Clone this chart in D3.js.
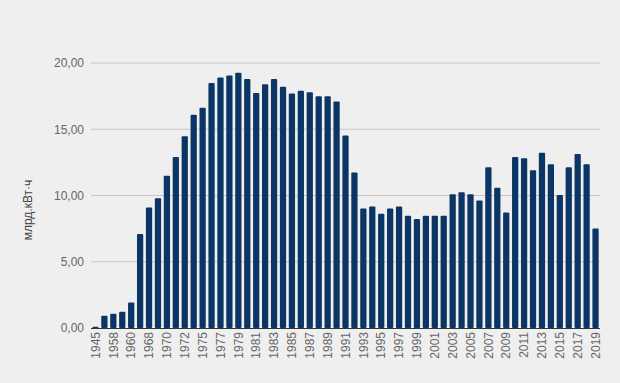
<!DOCTYPE html>
<html>
<head>
<meta charset="utf-8">
<script src="https://cdn.jsdelivr.net/npm/d3@7"></script>
<style>
  body { margin: 0; background: #efefef; }
  svg { display: block; font-family: "Liberation Sans", Arial, sans-serif; }
</style>
</head>
<body>
<svg id="chart"></svg>
<script>
let years = ['1945', '1950', '1958', '1959', '1960', '1965', '1968', '1969', '1970', '1971',
    '1972', '1973', '1975', '1976', '1977', '1978', '1979', '1980', '1981', '1982',
    '1983', '1984', '1985', '1986', '1987', '1988', '1989', '1990', '1991', '1992',
    '1993', '1994', '1995', '1996', '1997', '1998', '1999', '2000', '2001', '2002',
    '2003', '2004', '2005', '2006', '2007', '2008', '2009', '2010', '2011', '2012',
    '2013', '2014', '2015', '2016', '2017', '2018', '2019']

let output = [0.1, 0.93, 1.08, 1.23, 1.93, 7.09, 9.1, 9.8, 11.5, 12.9,
    14.47, 16.1, 16.63, 18.5, 18.9, 19.05, 19.27, 18.8, 17.74, 18.4,
    18.8, 18.2, 17.7, 17.9, 17.8, 17.5, 17.5, 17.1, 14.52, 11.73,
    9.02, 9.17, 8.62, 9.02, 9.17, 8.47, 8.22, 8.47, 8.47, 8.47,
    10.1, 10.25, 10.1, 9.62, 12.14, 10.58, 8.72, 12.91, 12.81, 11.91,
    13.22, 12.36, 10.03, 12.14, 13.14, 12.36, 7.51]

let yTicks = [0, 5, 10, 15, 20]

let margin = { top: 63, right: 20, bottom: 55, left: 91 },
    width = 620 - margin.left - margin.right,
    height = 383 - margin.top - margin.bottom

let ru = d3.formatLocale({ decimal: ',', thousands: ' ', grouping: [3], currency: ['', ''] })
let fmt = ru.format('.2f')

let svg = d3.select('#chart')
    .attr('width', 620)
    .attr('height', 383)
    .append('g')
    .attr('transform', `translate(${margin.left}, ${margin.top})`)

let x = d3.scaleBand().domain(years).range([0, 509]).paddingInner(0.3).paddingOuter(0.15)
let y = d3.scaleLinear().domain([0, 20]).range([265, 0])

// grid lines
svg.append('g')
    .selectAll('line')
    .data(yTicks.slice(1))
    .enter().append('line')
    .attr('x1', 0)
    .attr('x2', 509)
    .attr('y1', d => y(d))
    .attr('y2', d => y(d))
    .style('stroke', '#c6c6c6')
    .style('stroke-width', 1)

// y axis labels
let yAxis = svg.append('g')
    .call(d3.axisLeft(y).tickValues(yTicks).tickFormat(fmt).tickSize(0).tickPadding(7))
yAxis.select('.domain').remove()
yAxis.selectAll('text').style('fill', '#666').style('font-size', '12px')

// bars
svg.selectAll('.bar')
    .data(years.map((d, i) => [d, output[i]]))
    .enter().append('rect')
    .attr('class', 'bar')
    .attr('fill', '#0b3564')
    .attr('x', d => x(d[0]))
    .attr('y', d => y(d[1]))
    .attr('width', x.bandwidth())
    .attr('height', d => y(0) - y(d[1]))
    .attr('rx', 1)

// x axis
let xAxis = svg.append('g')
    .attr('transform', `translate(0, ${y(0)})`)
    .call(d3.axisBottom(x).tickValues(years.filter((d, i) => i % 2 == 0)).tickSize(0).tickPadding(0))
xAxis.select('.domain')
    .attr('d', 'M0,0.5H509')
    .style('stroke', '#333')
xAxis.selectAll('text')
    .style('fill', '#666')
    .style('font-size', '12px')
    .attr('text-anchor', 'end')
    .attr('dy', '0.35em')
    .attr('transform', 'translate(0, 4) rotate(-90)')
    .attr('x', 0)
    .attr('y', 0)

// y axis title
svg.append('text')
    .attr('transform', 'rotate(-90)')
    .attr('x', -147)
    .attr('y', -59)
    .attr('text-anchor', 'middle')
    .style('fill', '#444')
    .style('font-size', '12px')
    .text('млрд.кВт·ч')
</script>
</body>
</html>
